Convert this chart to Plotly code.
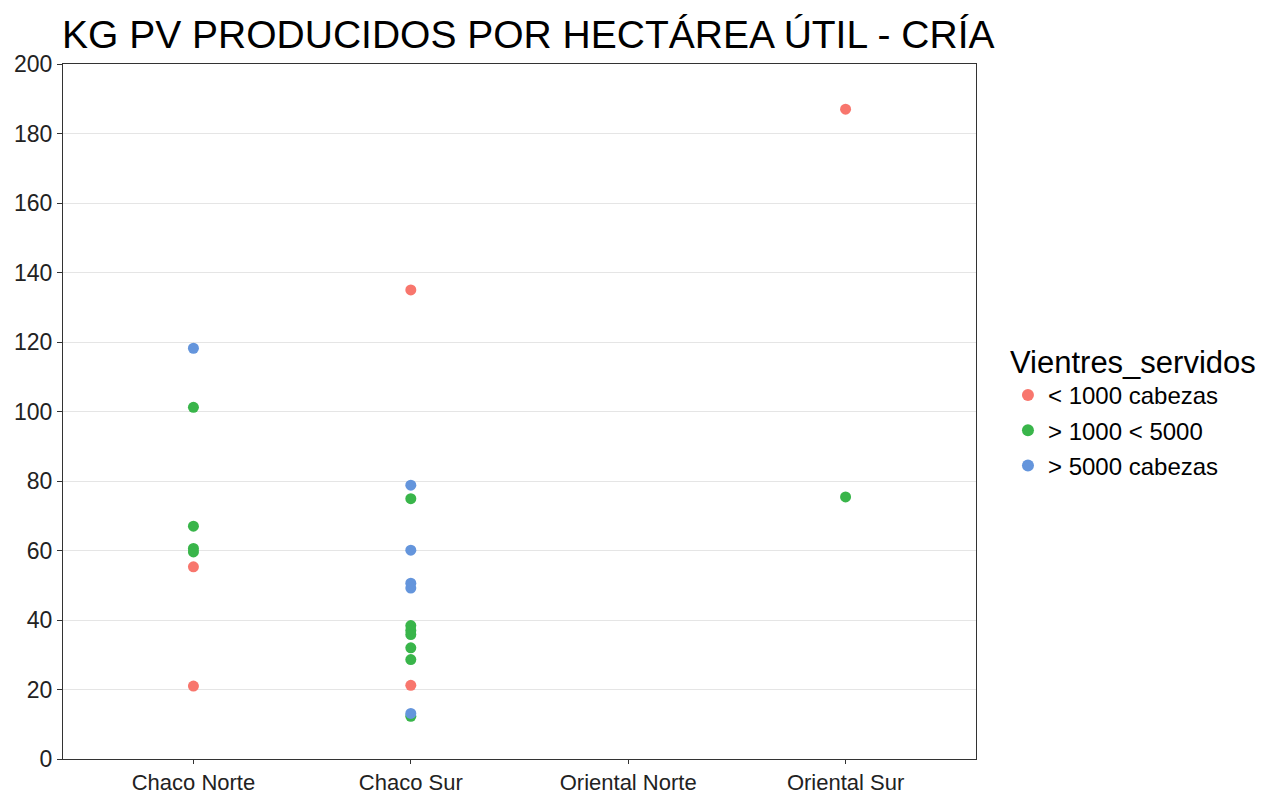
import plotly.graph_objects as go

categories = ["Chaco Norte", "Chaco Sur", "Oriental Norte", "Oriental Sur"]
groups = ["< 1000 cabezas", "> 1000 < 5000", "> 5000 cabezas"]
colors = ["#F8766D", "#39B54A", "#6495DC"]

red_x = ["Chaco Norte", "Chaco Norte", "Chaco Sur", "Chaco Sur", "Oriental Sur"]
red_y = [55.3, 21.0, 135.0, 21.2, 187.0]

green_x = ["Chaco Norte", "Chaco Norte", "Chaco Norte", "Chaco Norte",
           "Chaco Sur", "Chaco Sur", "Chaco Sur", "Chaco Sur", "Chaco Sur",
           "Chaco Sur", "Chaco Sur", "Oriental Sur"]
green_y = [101.2, 67.0, 60.6, 59.6,
           74.9, 38.4, 37.0, 35.8, 32.0, 28.6, 12.3, 75.4]

blue_x = ["Chaco Norte", "Chaco Sur", "Chaco Sur", "Chaco Sur", "Chaco Sur", "Chaco Sur"]
blue_y = [118.2, 78.8, 60.1, 50.6, 49.2, 13.1]

series = [(red_x, red_y), (green_x, green_y), (blue_x, blue_y)]

fig = go.Figure()
for name, col, (xs, ys) in zip(groups, colors, series):
    fig.add_trace(go.Scatter(
        x=xs, y=ys, mode="markers", name=name, legendgroup=name,
        marker=dict(color=col, size=11, line=dict(width=0)),
    ))

font_family = "Liberation Sans, Arial, sans-serif"
fig.update_layout(
    width=1270, height=794,
    paper_bgcolor="white", plot_bgcolor="white",
    margin=dict(l=63, r=294, t=64, b=35),
    font=dict(family=font_family, color="#111111"),
    title=dict(text="KG PV PRODUCIDOS POR HECTÁREA ÚTIL - CRÍA",
               x=62 / 1270, xanchor="left", xref="container",
               y=1 - 34 / 794, yanchor="middle", yref="container",
               font=dict(size=39, color="#000000", family=font_family)),
    legend=dict(
        title=dict(text="Vientres_servidos", font=dict(size=31, color="#000000")),
        font=dict(size=24, color="#000000"),
        x=1.035, xanchor="left", y=0.502, yanchor="middle",
        tracegroupgap=1, itemsizing="constant",
        bgcolor="rgba(0,0,0,0)",
    ),
    showlegend=True,
)
fig.update_xaxes(
    type="category", categoryorder="array", categoryarray=categories,
    range=[-0.6, 3.6], showgrid=False, zeroline=False, automargin=False,
    showline=True, linecolor="#333333", linewidth=1, mirror=True,
    ticks="outside", ticklen=4, tickcolor="#333333",
    tickfont=dict(size=22, color="#222222"),
)
fig.update_yaxes(
    range=[0, 200], tickmode="array", tickvals=list(range(0, 201, 20)),
    showgrid=True, gridcolor="#E5E5E5", gridwidth=1, zeroline=False, automargin=False,
    showline=True, linecolor="#333333", linewidth=1, mirror=True,
    ticks="outside", ticklen=5, tickcolor="#333333",
    tickfont=dict(size=23, color="#222222"),
)
fig.write_html("out.html", config={"displayModeBar": False},
               post_script="document.body.style.margin='0';")
